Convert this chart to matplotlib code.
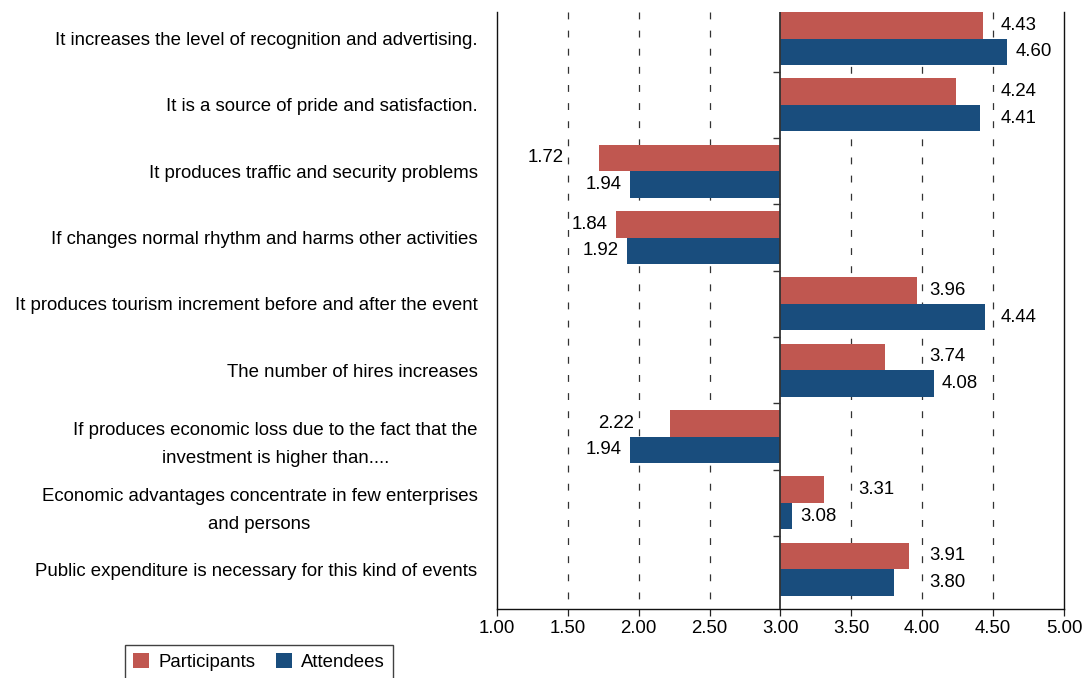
import matplotlib
matplotlib.use("Agg")
import matplotlib.pyplot as plt
import numpy as np
from matplotlib.patches import Patch

plt.rcParams['font.family'] = ['Liberation Sans', 'DejaVu Sans']

categories = [
    "It increases the level of recognition and advertising.",
    "It is a source of pride and satisfaction.",
    "It produces traffic and security problems",
    "If changes normal rhythm and harms other activities",
    "It produces tourism increment before and after the event",
    "The number of hires increases",
    "If produces economic loss due to the fact that the\ninvestment is higher than....",
    "Economic advantages concentrate in few enterprises\nand persons",
    "Public expenditure is necessary for this kind of events",
]
participants = [4.43, 4.24, 1.72, 1.84, 3.96, 3.74, 2.22, 3.31, 3.91]
attendees = [4.60, 4.41, 1.94, 1.92, 4.44, 4.08, 1.94, 3.08, 3.80]
series_names = ["Participants", "Attendees"]
xticks = [1.0, 1.5, 2.0, 2.5, 3.0, 3.5, 4.0, 4.5, 5.0]

RED = '#C05750'
BLUE = '#194D7D'
BASE = 3.0
FS = 13.4

fig = plt.figure(figsize=(10.86, 6.78), dpi=100)
ax = fig.add_axes([0.4576, 0.1018, 0.9797 - 0.4576, 0.9823 - 0.1018])

y = np.arange(len(categories))
h = 0.4
p = np.array(participants)
a = np.array(attendees)
ax.barh(y - h / 2, p - BASE, left=BASE, height=h, color=RED, zorder=2)
ax.barh(y + h / 2, a - BASE, left=BASE, height=h, color=BLUE, zorder=2)

ax.set_xlim(xticks[0], xticks[-1])
ax.set_ylim(len(categories) - 0.4, -0.4)

grid = [t for t in xticks if t not in (xticks[0], BASE, xticks[-1])]
for g in grid:
    # drawn from the top down so the dash pattern starts at the top edge
    ax.axvline(g, ymin=1, ymax=0, color='#333333', lw=0.9, ls=(0, (5.5, 9)), zorder=1)
ax.axvline(BASE, color='#333333', lw=1.3, zorder=3)
ax.hlines(np.arange(0.5, len(categories) - 1, 1), BASE - 0.05, BASE,
          color='#333333', lw=1.0, zorder=3)

ax.set_xticks(xticks)
ax.set_xticklabels([f"{t:.2f}" for t in xticks], fontsize=FS)
ax.tick_params(axis='x', length=5, width=0.9, pad=3, color='#222222')
ax.set_yticks(y)
ax.set_yticklabels(categories, fontsize=FS)
ax.tick_params(axis='y', length=0, pad=14)
for t in ax.get_yticklabels():
    t.set_multialignment('center')
    t.set_linespacing(1.85)

ax.spines['top'].set_visible(False)
for s in ('left', 'right', 'bottom'):
    ax.spines[s].set_linewidth(1.0)
    ax.spines[s].set_color('#111111')

# value labels, shifted so they never sit on a dashed grid line
fig.canvas.draw()
renderer = fig.canvas.get_renderer()
inv = ax.transData.inverted()
gap = 0.06
for vals, off in ((p, -h / 2), (a, h / 2)):
    for yi, v in zip(y, vals):
        txt = f"{v:.2f}"
        t = ax.text(0, yi + off, txt, fontsize=FS, va='center', ha='left', zorder=4)
        bb = t.get_window_extent(renderer)
        w = inv.transform((bb.x1, 0))[0] - inv.transform((bb.x0, 0))[0]
        if v >= BASE:
            x0 = v + gap
            for g in grid:
                if x0 - 0.03 <= g <= x0 + w:
                    x0 = g + 0.05
            t.set_x(x0)
        else:
            x1 = v - gap
            for g in sorted(grid, reverse=True):
                if x1 - w <= g <= x1 + 0.03:
                    x1 = g - 0.03
            t.set_ha('right')
            t.set_x(x1)

handles = [Patch(facecolor=RED, edgecolor='none'), Patch(facecolor=BLUE, edgecolor='none')]
leg = fig.legend(handles, series_names, loc='upper left', bbox_to_anchor=(0.115, 0.049),
                 ncol=2, fontsize=FS, frameon=True, fancybox=False,
                 handlelength=0.85, handleheight=0.85, handletextpad=0.5,
                 columnspacing=1.1, borderpad=0.45, borderaxespad=0)
leg.get_frame().set_edgecolor('#111111')
leg.get_frame().set_linewidth(1.0)

fig.savefig('out.png', dpi=100)
